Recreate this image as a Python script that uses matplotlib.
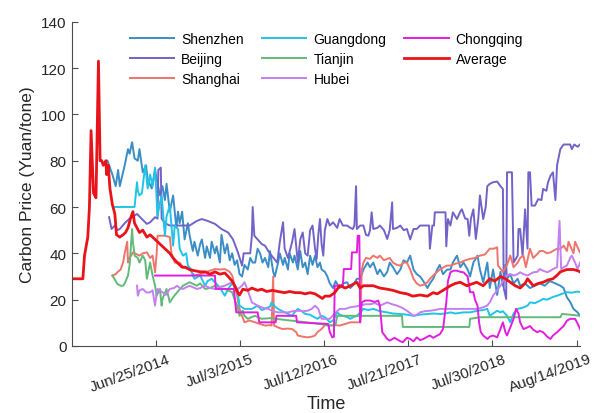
"""
Carbon prices on the Chinese pilot ETS markets, 2013-2019.
Values read off the published figure: time in decimal years, price in Yuan/tone.
"""
import pandas as pd
import matplotlib
matplotlib.use("Agg")
import matplotlib.pyplot as plt
from matplotlib.transforms import ScaledTranslation


# -------------------------------------------------------
# Data (decimal year, price)
# -------------------------------------------------------
SHENZHEN = [
    (2013.89, 80), (2013.92, 77), (2013.95, 74), (2013.99, 69), (2014.02, 76), (2014.04, 69),
    (2014.06, 72), (2014.10, 78), (2014.14, 85), (2014.16, 83), (2014.19, 88), (2014.22, 81),
    (2014.26, 80), (2014.28, 85), (2014.32, 75), (2014.36, 78), (2014.38, 72), (2014.43, 68),
    (2014.47, 76), (2014.49, 72), (2014.53, 65), (2014.56, 69), (2014.59, 63), (2014.61, 70),
    (2014.65, 58), (2014.69, 65), (2014.73, 51), (2014.75, 58), (2014.77, 53), (2014.80, 58),
    (2014.83, 46), (2014.87, 53), (2014.89, 48), (2014.93, 41), (2014.95, 45), (2014.99, 39),
    (2015.02, 44), (2015.04, 46), (2015.08, 38), (2015.10, 43), (2015.14, 38), (2015.16, 45),
    (2015.20, 40), (2015.22, 43), (2015.26, 36), (2015.28, 48), (2015.32, 40), (2015.35, 44),
    (2015.38, 37), (2015.41, 40), (2015.44, 35), (2015.47, 37), (2015.50, 31), (2015.53, 30),
    (2015.56, 35), (2015.60, 33), (2015.63, 38), (2015.66, 36), (2015.69, 36), (2015.72, 42),
    (2015.75, 40), (2015.78, 36), (2015.81, 38), (2015.85, 34), (2015.87, 41), (2015.91, 32),
    (2015.93, 30), (2015.97, 36), (2015.99, 40), (2016.03, 35), (2016.05, 38), (2016.09, 33),
    (2016.11, 40), (2016.15, 36), (2016.17, 39), (2016.21, 33), (2016.24, 41), (2016.27, 34),
    (2016.30, 36), (2016.33, 31), (2016.36, 39), (2016.39, 35), (2016.42, 39), (2016.45, 34),
    (2016.48, 36), (2016.50, 33), (2016.54, 32), (2016.57, 30), (2016.60, 27), (2016.64, 25),
    (2016.67, 28), (2016.72, 25), (2016.76, 27), (2016.81, 27.5), (2016.85, 25), (2016.88, 26),
    (2016.93, 29), (2016.97, 29), (2017.01, 33), (2017.06, 36), (2017.09, 34), (2017.13, 36),
    (2017.18, 31), (2017.21, 33), (2017.26, 30), (2017.30, 32), (2017.33, 36), (2017.37, 34),
    (2017.42, 31), (2017.46, 33), (2017.50, 37), (2017.54, 36), (2017.58, 39), (2017.62, 33),
    (2017.66, 31), (2017.70, 30), (2017.74, 28), (2017.79, 25), (2017.82, 27), (2017.86, 29),
    (2017.91, 33), (2017.94, 35), (2017.98, 31), (2018.03, 33), (2018.07, 33), (2018.10, 36),
    (2018.15, 39), (2018.19, 34), (2018.23, 36), (2018.28, 33), (2018.31, 30), (2018.35, 36),
    (2018.40, 39), (2018.43, 33), (2018.47, 27.5), (2018.52, 36), (2018.55, 25), (2018.59, 33),
    (2018.64, 22), (2018.68, 32), (2018.71, 26), (2018.74, 35), (2018.76, 29), (2018.80, 31),
    (2018.84, 27), (2018.89, 29), (2018.92, 26), (2018.98, 27), (2019.04, 25), (2019.10, 26),
    (2019.16, 27), (2019.22, 26), (2019.28, 28), (2019.35, 27), (2019.41, 26), (2019.45, 25),
    (2019.49, 21), (2019.53, 19), (2019.57, 16), (2019.62, 14.5), (2019.65, 13),
]

BEIJING = [
    (2013.91, 55.6), (2013.94, 50.5), (2013.98, 52), (2014.01, 50), (2014.04, 50.5), (2014.10, 53),
    (2014.16, 55), (2014.19, 55.6), (2014.25, 57), (2014.31, 54.8), (2014.37, 52.7), (2014.41, 53.4),
    (2014.47, 55.6), (2014.50, 55), (2014.51, 76), (2014.54, 77), (2014.55, 55), (2014.59, 53),
    (2014.65, 52), (2014.77, 52), (2014.89, 52), (2014.98, 54), (2015.04, 54.8), (2015.11, 54),
    (2015.20, 52.7), (2015.28, 50.5), (2015.36, 49), (2015.42, 46), (2015.48, 40.4), (2015.53, 34.7),
    (2015.55, 40), (2015.63, 40), (2015.65, 47.6), (2015.66, 60), (2015.68, 47.6), (2015.72, 46),
    (2015.77, 44), (2015.81, 43.3), (2015.85, 41), (2015.89, 39), (2015.96, 36), (2015.99, 44.8),
    (2016.03, 53.4), (2016.05, 42), (2016.09, 38), (2016.14, 44.8), (2016.17, 50.5), (2016.21, 36),
    (2016.24, 46), (2016.27, 49), (2016.30, 40), (2016.33, 39), (2016.36, 50), (2016.39, 52),
    (2016.42, 42), (2016.44, 37.6), (2016.46, 48), (2016.48, 54.8), (2016.50, 44), (2016.52, 39),
    (2016.54, 50), (2016.57, 54.8), (2016.60, 52), (2016.64, 53.4), (2016.69, 51), (2016.72, 54.8),
    (2016.76, 52), (2016.81, 52), (2016.85, 51), (2016.88, 50.5), (2016.90, 52), (2016.92, 69),
    (2016.93, 50.5), (2016.97, 52), (2017.01, 52), (2017.04, 48), (2017.07, 47.6), (2017.09, 50),
    (2017.11, 57.7), (2017.13, 50.5), (2017.18, 51), (2017.21, 52), (2017.26, 50), (2017.30, 46.2),
    (2017.33, 50), (2017.36, 62), (2017.37, 50.5), (2017.42, 51), (2017.46, 52), (2017.50, 50),
    (2017.54, 50.5), (2017.58, 46), (2017.62, 50.5), (2017.66, 50.5), (2017.70, 52), (2017.79, 52),
    (2017.81, 52), (2017.82, 42), (2017.85, 52), (2017.87, 52), (2017.88, 57.7), (2017.94, 57.7),
    (2018.01, 57.7), (2018.02, 43), (2018.04, 54.8), (2018.07, 52), (2018.10, 57.7), (2018.15, 54.8),
    (2018.19, 58), (2018.21, 59), (2018.25, 55), (2018.28, 54.8), (2018.30, 47.6), (2018.32, 55),
    (2018.35, 59), (2018.38, 46.2), (2018.41, 55), (2018.43, 65), (2018.47, 54.8), (2018.50, 60),
    (2018.52, 69), (2018.55, 70), (2018.59, 70.7), (2018.64, 71), (2018.68, 69), (2018.71, 67.8),
    (2018.72, 25), (2018.75, 20.3), (2018.76, 75), (2018.80, 75), (2018.82, 75), (2018.84, 36),
    (2018.89, 39), (2018.90, 50.5), (2018.92, 50.5), (2018.95, 39), (2018.98, 59), (2019.01, 42),
    (2019.02, 75), (2019.04, 75), (2019.06, 60.6), (2019.10, 60.6), (2019.14, 63.4), (2019.18, 63),
    (2019.20, 67.8), (2019.24, 67), (2019.26, 70.7), (2019.29, 73.5), (2019.32, 75), (2019.35, 63),
    (2019.37, 78), (2019.41, 85), (2019.45, 87), (2019.49, 87), (2019.53, 87), (2019.55, 85),
    (2019.58, 87), (2019.62, 86), (2019.65, 87),
]

SHANGHAI = [
    (2013.95, 30.4), (2013.99, 31), (2014.01, 31.8), (2014.05, 33), (2014.08, 36), (2014.10, 40),
    (2014.13, 45), (2014.14, 36), (2014.16, 38), (2014.20, 40.4), (2014.25, 39.5), (2014.28, 39),
    (2014.32, 40), (2014.37, 40.4), (2014.41, 38), (2014.44, 39), (2014.47, 31.8), (2014.49, 40),
    (2014.50, 47.6), (2014.59, 47.6), (2014.65, 47), (2014.67, 40), (2014.71, 36), (2014.77, 36),
    (2014.81, 34), (2014.89, 33), (2014.95, 30.4), (2015.02, 31), (2015.08, 31.8), (2015.14, 32.5),
    (2015.20, 33.2), (2015.26, 33), (2015.32, 33.2), (2015.38, 32), (2015.41, 30.4), (2015.44, 26),
    (2015.47, 21.7), (2015.50, 16), (2015.53, 13), (2015.56, 10.2), (2015.62, 11), (2015.69, 10.2),
    (2015.75, 9.5), (2015.81, 8.8), (2015.87, 9), (2015.89, 8.8), (2015.91, 30), (2015.92, 8.8),
    (2015.97, 8), (2016.02, 7.3), (2016.09, 7.5), (2016.14, 7.3), (2016.19, 6), (2016.21, 4.5),
    (2016.27, 4), (2016.33, 3.7), (2016.38, 4), (2016.42, 4.5), (2016.45, 6), (2016.50, 7.3),
    (2016.54, 9), (2016.60, 8.8), (2016.66, 9), (2016.72, 8.8), (2016.79, 9.5), (2016.85, 10.2),
    (2016.91, 10.2), (2016.97, 10.2), (2016.99, 33), (2017.01, 36), (2017.04, 38), (2017.09, 37.6),
    (2017.13, 39), (2017.18, 38), (2017.21, 39), (2017.26, 37), (2017.30, 37.6), (2017.33, 38),
    (2017.37, 36), (2017.42, 35), (2017.46, 34.7), (2017.50, 36), (2017.54, 36), (2017.58, 33),
    (2017.62, 29), (2017.66, 27), (2017.70, 26), (2017.75, 26.5), (2017.79, 27.5), (2017.82, 29),
    (2017.86, 30.4), (2017.91, 32), (2017.94, 33), (2017.99, 34), (2018.03, 34.7), (2018.07, 34.7),
    (2018.13, 35.5), (2018.19, 36), (2018.25, 37), (2018.31, 37.6), (2018.37, 38), (2018.43, 39),
    (2018.49, 39.5), (2018.55, 42), (2018.60, 42), (2018.64, 42.6), (2018.65, 34.7), (2018.71, 32),
    (2018.76, 35), (2018.80, 39), (2018.84, 34), (2018.89, 36), (2018.92, 38), (2018.96, 39),
    (2018.99, 34), (2019.04, 42), (2019.08, 38), (2019.13, 39.7), (2019.16, 41), (2019.20, 41),
    (2019.25, 40), (2019.29, 40.4), (2019.32, 41), (2019.37, 42), (2019.41, 42), (2019.45, 43.3),
    (2019.49, 41), (2019.51, 45), (2019.53, 43.3), (2019.57, 40), (2019.59, 45), (2019.62, 42.6),
    (2019.65, 40.4),
]

GUANGDONG = [
    (2013.98, 60), (2014.20, 60), (2014.22, 60), (2014.25, 70.7), (2014.26, 67), (2014.28, 65),
    (2014.31, 66), (2014.35, 78), (2014.38, 68), (2014.41, 74), (2014.44, 69), (2014.47, 77),
    (2014.50, 56), (2014.53, 62), (2014.55, 65), (2014.59, 47.6), (2014.61, 56), (2014.65, 60.6),
    (2014.69, 43.3), (2014.71, 52), (2014.75, 50.5), (2014.77, 42), (2014.81, 39), (2014.85, 40),
    (2014.87, 34.7), (2014.91, 33), (2014.93, 30.4), (2014.95, 29), (2015.02, 30.4), (2015.08, 26),
    (2015.11, 28), (2015.16, 29), (2015.24, 26), (2015.28, 24), (2015.32, 21.7), (2015.36, 24.6),
    (2015.42, 27.5), (2015.47, 24.6), (2015.50, 17.4), (2015.56, 16), (2015.65, 16), (2015.72, 17.4),
    (2015.77, 15.5), (2015.81, 16), (2015.87, 17), (2015.89, 18.8), (2015.93, 17), (2015.97, 16),
    (2016.02, 15), (2016.05, 14.5), (2016.11, 13.5), (2016.14, 13), (2016.17, 14.5), (2016.21, 16),
    (2016.26, 15), (2016.30, 13.8), (2016.36, 13.5), (2016.38, 13), (2016.45, 11.7), (2016.50, 13),
    (2016.54, 12.4), (2016.58, 11), (2016.60, 10.2), (2016.64, 11), (2016.69, 14.5), (2016.72, 13.5),
    (2016.76, 13), (2016.81, 12.5), (2016.85, 11.7), (2016.89, 12.5), (2016.93, 13), (2016.97, 14.5),
    (2017.01, 16), (2017.07, 15.5), (2017.13, 16), (2017.21, 15), (2017.30, 14.5), (2017.37, 14),
    (2017.46, 13.8), (2017.54, 13.5), (2017.62, 13), (2017.70, 13.5), (2017.79, 13.8), (2017.86, 14),
    (2017.94, 13.8), (2018.01, 14), (2018.07, 14.5), (2018.13, 14), (2018.23, 14.5), (2018.31, 14.5),
    (2018.40, 15.2), (2018.47, 15.5), (2018.52, 16), (2018.55, 13), (2018.59, 14), (2018.64, 15.2),
    (2018.68, 14.5), (2018.71, 15), (2018.76, 13), (2018.80, 10.2), (2018.84, 14), (2018.89, 16),
    (2018.95, 16.5), (2019.01, 17.4), (2019.04, 18.8), (2019.10, 18.5), (2019.16, 19.5), (2019.20, 20.3),
    (2019.25, 20), (2019.31, 21), (2019.37, 21.7), (2019.43, 22.5), (2019.49, 23.2), (2019.55, 23),
    (2019.62, 23.5), (2019.65, 23.2),
]

TIANJIN = [
    (2013.95, 30.4), (2013.99, 28), (2014.01, 26.8), (2014.05, 26), (2014.08, 26), (2014.10, 27),
    (2014.14, 30.4), (2014.16, 35), (2014.19, 50.5), (2014.20, 45), (2014.22, 39), (2014.26, 38),
    (2014.28, 36), (2014.32, 39), (2014.35, 37), (2014.37, 29), (2014.41, 36), (2014.44, 30.4),
    (2014.47, 26), (2014.49, 21.7), (2014.53, 24.6), (2014.55, 17.4), (2014.56, 20.3), (2014.61, 24.6),
    (2014.65, 18.8), (2014.69, 21), (2014.74, 23.2), (2014.81, 26), (2014.89, 27.5), (2014.98, 26),
    (2015.02, 27), (2015.08, 24.6), (2015.14, 25), (2015.20, 26), (2015.26, 25), (2015.32, 24.6),
    (2015.41, 23.2), (2015.44, 20), (2015.47, 17.4), (2015.50, 13), (2015.54, 15.2), (2015.56, 13),
    (2015.60, 11.7), (2015.65, 12.5), (2015.69, 13), (2015.77, 11.7), (2015.87, 12), (2015.99, 11.5),
    (2016.11, 11), (2016.24, 10.5), (2016.36, 10), (2016.48, 9.5), (2016.60, 8.8), (2016.67, 9),
    (2016.69, 13), (2016.79, 13), (2016.91, 13), (2017.04, 13), (2017.15, 13), (2017.27, 13),
    (2017.40, 13), (2017.48, 13), (2017.49, 8.2), (2017.70, 8.2), (2017.94, 8.2), (2018.19, 8.2),
    (2018.30, 8.2), (2018.31, 11.7), (2018.43, 12.4), (2018.68, 12.4), (2018.92, 12.4), (2019.16, 12.4),
    (2019.41, 12.4), (2019.43, 13.8), (2019.53, 13.5), (2019.65, 13),
]

HUBEI = [
    (2014.25, 26), (2014.26, 21.7), (2014.28, 24), (2014.32, 24.6), (2014.37, 23), (2014.41, 23.2),
    (2014.44, 24), (2014.47, 17.4), (2014.49, 23), (2014.50, 24.6), (2014.56, 23.2), (2014.60, 22),
    (2014.65, 24.6), (2014.70, 25), (2014.74, 26), (2014.77, 25), (2014.81, 24.6), (2014.86, 25.5),
    (2014.89, 26), (2014.98, 24.6), (2015.02, 25), (2015.08, 26), (2015.14, 25), (2015.20, 24.6),
    (2015.26, 25.5), (2015.32, 26), (2015.41, 27.5), (2015.44, 25), (2015.48, 24.6), (2015.53, 26),
    (2015.56, 27.5), (2015.60, 24), (2015.65, 18.8), (2015.72, 17.4), (2015.78, 16.5), (2015.85, 16),
    (2015.91, 15), (2015.97, 14.5), (2016.03, 14.5), (2016.09, 14.5), (2016.15, 15), (2016.21, 15.2),
    (2016.27, 15), (2016.33, 15.2), (2016.38, 16), (2016.42, 17.4), (2016.46, 16), (2016.50, 11.7),
    (2016.60, 11.7), (2016.66, 14), (2016.72, 16), (2016.79, 16), (2016.85, 16.7), (2016.91, 17),
    (2016.97, 17.4), (2017.03, 18), (2017.09, 18), (2017.15, 18.5), (2017.21, 17.4), (2017.30, 18.8),
    (2017.36, 18), (2017.42, 17.4), (2017.48, 16.5), (2017.54, 15.2), (2017.62, 13), (2017.66, 13.5),
    (2017.70, 14.5), (2017.76, 15), (2017.82, 15.2), (2017.88, 15.5), (2017.94, 16), (2018.01, 16),
    (2018.07, 16), (2018.15, 16), (2018.23, 16), (2018.31, 16), (2018.40, 16), (2018.47, 16.7),
    (2018.52, 17.5), (2018.55, 18.8), (2018.59, 21.7), (2018.64, 24), (2018.68, 26), (2018.71, 28),
    (2018.76, 30.4), (2018.80, 31), (2018.84, 30.4), (2018.89, 31), (2018.92, 31.8), (2018.96, 31),
    (2019.01, 30.4), (2019.04, 31), (2019.08, 31.8), (2019.13, 32), (2019.16, 33.2), (2019.20, 32.5),
    (2019.25, 31.8), (2019.29, 32.5), (2019.32, 33.2), (2019.37, 34), (2019.40, 54), (2019.42, 33.2),
    (2019.45, 34), (2019.49, 34.7), (2019.53, 38), (2019.55, 39), (2019.59, 36), (2019.62, 33.2),
    (2019.65, 36),
]

CHONGQING = [
    (2014.47, 30.4), (2015.20, 30.4), (2015.21, 24.6), (2015.43, 24.6), (2015.46, 14.5), (2015.72, 14.5),
    (2015.74, 10.2), (2015.94, 10.2), (2015.95, 13), (2016.19, 13), (2016.20, 10.2), (2016.58, 9.5),
    (2016.60, 6), (2016.63, 3.7), (2016.65, 4), (2016.66, 26), (2016.76, 26), (2016.77, 33.2),
    (2016.86, 33.2), (2016.87, 40.4), (2016.93, 40.4), (2016.94, 47.6), (2016.96, 47.6), (2016.97, 10.2),
    (2016.99, 18.8), (2017.03, 19.6), (2017.09, 19.6), (2017.15, 19), (2017.19, 19.6), (2017.21, 17.4),
    (2017.24, 5.9), (2017.30, 3), (2017.33, 2.3), (2017.39, 3.5), (2017.46, 2), (2017.49, 1.6),
    (2017.54, 3.5), (2017.58, 3), (2017.62, 2), (2017.66, 3.7), (2017.70, 2.5), (2017.74, 3),
    (2017.79, 4), (2017.82, 4.5), (2017.86, 3.5), (2017.91, 4.5), (2017.94, 5), (2017.98, 7.3),
    (2018.02, 18.8), (2018.04, 28), (2018.07, 31.8), (2018.11, 32.5), (2018.15, 32.5), (2018.19, 32),
    (2018.23, 31.8), (2018.28, 30), (2018.31, 23.2), (2018.35, 23.2), (2018.37, 20), (2018.40, 17.4),
    (2018.42, 10), (2018.44, 6), (2018.47, 4.5), (2018.52, 3), (2018.55, 4), (2018.59, 4.5),
    (2018.64, 3.7), (2018.68, 7.3), (2018.71, 10.2), (2018.74, 6), (2018.76, 4.5), (2018.80, 8),
    (2018.84, 11.7), (2018.87, 16), (2018.90, 14), (2018.92, 10.2), (2018.96, 7.3), (2019.01, 8),
    (2019.04, 8.6), (2019.08, 7), (2019.13, 5.9), (2019.16, 6.5), (2019.20, 5.9), (2019.25, 4),
    (2019.29, 3), (2019.32, 4.5), (2019.37, 5.9), (2019.41, 7.3), (2019.45, 8.6), (2019.49, 10.9),
    (2019.53, 11.7), (2019.59, 11.7), (2019.63, 9), (2019.65, 7.3),
]

AVERAGE = [
    (2013.45, 29), (2013.59, 29), (2013.61, 39), (2013.65, 47), (2013.67, 60), (2013.69, 93),
    (2013.72, 66), (2013.75, 64), (2013.78, 123), (2013.80, 80), (2013.82, 80), (2013.84, 78),
    (2013.87, 80), (2013.88, 74), (2013.90, 78), (2013.92, 68), (2013.95, 61), (2013.98, 57),
    (2014.00, 48), (2014.04, 47), (2014.08, 48), (2014.11, 49), (2014.14, 51), (2014.17, 55),
    (2014.20, 58), (2014.22, 53), (2014.25, 51), (2014.28, 49), (2014.32, 50), (2014.37, 47),
    (2014.41, 48), (2014.47, 46), (2014.50, 45), (2014.53, 44), (2014.59, 42), (2014.65, 40),
    (2014.69, 38), (2014.74, 36), (2014.77, 35), (2014.80, 34), (2014.84, 34), (2014.89, 33),
    (2014.95, 32.5), (2015.02, 32), (2015.08, 32), (2015.14, 31), (2015.20, 32), (2015.26, 31),
    (2015.32, 31.5), (2015.36, 30), (2015.41, 28), (2015.44, 26), (2015.48, 23), (2015.50, 22),
    (2015.54, 24.5), (2015.60, 24), (2015.65, 25), (2015.72, 24), (2015.77, 24.5), (2015.83, 23.5),
    (2015.90, 24), (2015.97, 23.5), (2016.05, 23), (2016.11, 23.5), (2016.18, 23), (2016.24, 23),
    (2016.30, 22.5), (2016.36, 23), (2016.42, 22.5), (2016.51, 20.5), (2016.54, 21.5), (2016.60, 21.5),
    (2016.66, 23), (2016.72, 26), (2016.79, 25), (2016.85, 26), (2016.93, 27.5), (2016.97, 25),
    (2017.01, 26), (2017.07, 26), (2017.13, 26), (2017.21, 25), (2017.30, 24.5), (2017.37, 24),
    (2017.46, 23), (2017.54, 22.5), (2017.61, 21.5), (2017.70, 22), (2017.79, 21.5), (2017.86, 23),
    (2017.91, 22.5), (2017.98, 24), (2018.07, 26), (2018.13, 27), (2018.19, 27.5), (2018.27, 26),
    (2018.35, 27), (2018.39, 27.5), (2018.47, 26), (2018.55, 29), (2018.61, 28), (2018.68, 30),
    (2018.74, 29), (2018.80, 27.5), (2018.86, 26), (2018.92, 25), (2018.98, 27), (2019.01, 29),
    (2019.08, 26), (2019.14, 27), (2019.20, 27.5), (2019.26, 28.5), (2019.32, 29), (2019.37, 30.5),
    (2019.41, 32), (2019.45, 32.5), (2019.49, 33), (2019.53, 33), (2019.57, 33), (2019.62, 32.5),
    (2019.65, 32),
]

SERIES = [
    ("Shenzhen", SHENZHEN, "#3b8dc5"),
    ("Beijing", BEIJING, "#7263c9"),
    ("Shanghai", SHANGHAI, "#f0746a"),
    ("Guangdong", GUANGDONG, "#20c4e6"),
    ("Tianjin", TIANJIN, "#62ba78"),
    ("Hubei", HUBEI, "#c47ff0"),
    ("Chongqing", CHONGQING, "#e21ee0"),
    ("Average", AVERAGE, "#e8141a"),
]

TICK_DATES = ["2014-06-25", "2015-07-03", "2016-07-12", "2017-07-21", "2018-07-30", "2019-08-14"]
TICK_LABELS = ["Jun/25/2014", "Jul/3/2015", "Jul/12/2016", "Jul/21/2017", "Jul/30/2018", "Aug/14/2019"]
X_START, X_END = "2013-06-17", "2019-08-27"


def to_year(dates):
    d = pd.to_datetime(pd.Series(dates))
    days = d.dt.is_leap_year.map({True: 366, False: 365})
    return (d.dt.year + (d.dt.dayofyear - 1) / days).tolist()


plt.rcParams["font.family"] = ["Liberation Sans", "DejaVu Sans"]

fig = plt.figure(figsize=(6.05, 4.14), dpi=100)
ax = fig.add_axes([0.119, 0.162, 0.840, 0.783])

for name, pts, color in SERIES:
    t = [p[0] for p in pts]
    v = [p[1] for p in pts]
    lw = 2.0 if name == "Average" else 1.4
    ax.plot(t, v, color=color, linewidth=lw, label=name)

x0, x1 = to_year([X_START, X_END])
ax.set_xlim(x0, x1)
ax.set_ylim(0, 140)
ax.set_yticks(range(0, 141, 20))
ax.set_xticks(to_year(TICK_DATES))

for side in ("top", "right"):
    ax.spines[side].set_visible(False)
for side in ("left", "bottom"):
    ax.spines[side].set_color("#4d4d4d")
ax.tick_params(direction="in", length=4, width=0.8, colors="#4d4d4d",
               labelcolor="#262626", labelsize=11, pad=4)

ax.set_xticklabels(TICK_LABELS, rotation=20, ha="right", va="top", rotation_mode="anchor")
# matlab-style labels: shifted a bit to the right of the tick
# (done after tick_params, which would reset the transform)
offset = ScaledTranslation(11 / 100, 0, fig.dpi_scale_trans)
for lab in ax.get_xticklabels():
    lab.set_transform(lab.get_transform() + offset)

ax.set_ylabel("Carbon Price (Yuan/tone)", fontsize=12.5, color="#262626")
ax.set_xlabel("Time", fontsize=13, color="#262626")
ax.xaxis.set_label_coords(0.5, -0.152)

ax.legend(ncol=3, frameon=False, fontsize=10, loc="upper left",
          bbox_to_anchor=(0.114, 0.969), borderpad=0, borderaxespad=0,
          handlelength=3.2, handletextpad=0.5, columnspacing=1.3, labelspacing=0.45)

fig.savefig("out.png", dpi=100)
plt.close(fig)
